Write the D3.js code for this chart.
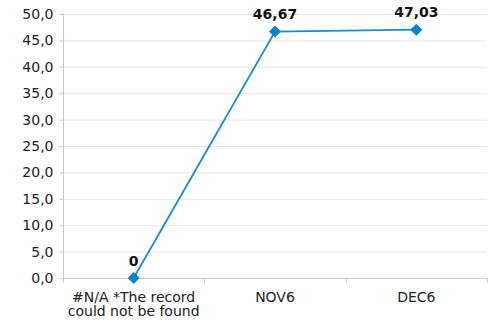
<!DOCTYPE html>
<html><head><meta charset="utf-8">
<script src="https://cdn.jsdelivr.net/npm/d3@7/dist/d3.min.js"></script>
<style>body{margin:0;background:#fff}svg{display:block}text{font-family:"DejaVu Sans",Verdana,sans-serif}</style>
</head><body>
<svg id="c" width="493" height="322"></svg>
<script>
const categories = [["#N/A *The record", "could not be found"], ["NOV6"], ["DEC6"]];
const values = [0, 46.67, 47.03];
const valueLabels = ["0", "46,67", "47,03"];
const yTicks = [0, 5, 10, 15, 20, 25, 30, 35, 40, 45, 50];

const svg = d3.select("#c");
const m = {l: 63, r: 487, t: 14, b: 278};
const x = d3.scaleBand().domain(d3.range(categories.length)).range([m.l, m.r]);
const y = d3.scaleLinear().domain([0, 50]).range([m.b, m.t]);
const fmt = d => d3.format(".1f")(d).replace(".", ",");

// gridlines
svg.append("g").selectAll("line").data(yTicks.filter(d => d > 0)).join("line")
  .attr("x1", m.l).attr("x2", m.r).attr("y1", d => y(d) + 0.5).attr("y2", d => y(d) + 0.5)
  .attr("stroke", "#e6e6e6").attr("stroke-width", 1);

// y axis
const ya = svg.append("g").attr("transform", `translate(${m.l + 0.5},0)`)
  .call(d3.axisLeft(y).tickValues(yTicks).tickFormat(fmt).tickSize(4).tickPadding(6));
ya.select(".domain").attr("stroke", "#c8c8c8").attr("d", `M-4,${m.t + 0.5}H0V${m.b + 0.5}H-4`);
ya.selectAll(".tick line").attr("stroke", "#c8c8c8");
ya.selectAll("text").attr("font-size", 14).attr("fill", "#222").style("font-family", '"DejaVu Sans",Verdana,sans-serif');

// x axis
const xa = svg.append("g").attr("transform", `translate(0,${m.b + 0.5})`);
xa.append("line").attr("x1", m.l).attr("x2", m.r).attr("stroke", "#c8c8c8");
const bounds = d3.range(categories.length + 1).map(i => i < categories.length ? x(i) : x(i - 1) + x.bandwidth());
xa.selectAll(".tk").data(bounds).join("line").attr("class", "tk")
  .attr("x1", d => Math.round(d) + 0.5).attr("x2", d => Math.round(d) + 0.5).attr("y1", 0).attr("y2", 4)
  .attr("stroke", "#c8c8c8");
xa.selectAll(".lbl").data(categories).join("text").attr("class", "lbl")
  .attr("x", (d, i) => x(i) + x.bandwidth() / 2).attr("y", 23)
  .attr("text-anchor", "middle").attr("font-size", 14).attr("fill", "#222")
  .selectAll("tspan").data(d => d).join("tspan")
  .attr("x", function() { return d3.select(this.parentNode).attr("x"); })
  .attr("dy", (d, i) => i === 0 ? 0 : 14.5).text(d => d);

// line
const cx = i => x(i) + x.bandwidth() / 2;
svg.append("path").datum(values)
  .attr("d", d3.line().x((d, i) => cx(i)).y(d => y(d)))
  .attr("fill", "none").attr("stroke", "#1a8bcb").attr("stroke-width", 1.8);

// markers
svg.append("g").selectAll("path").data(values).join("path")
  .attr("d", d3.symbol().type(d3.symbolSquare).size(72))
  .attr("transform", (d, i) => `translate(${cx(i)},${y(d)}) rotate(45)`)
  .attr("fill", "#0a84c8");

// labels
svg.append("g").selectAll("text").data(values).join("text")
  .attr("x", (d, i) => cx(i)).attr("y", d => y(d) - 12.5)
  .attr("text-anchor", "middle").attr("font-size", 14).attr("font-weight", "bold").attr("fill", "#111")
  .text((d, i) => valueLabels[i]);
</script>
</body></html>
